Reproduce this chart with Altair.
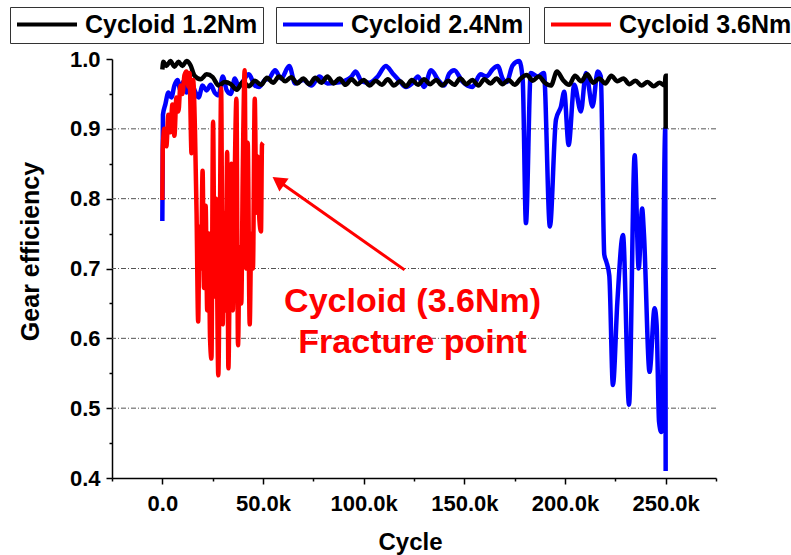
import altair as alt
import pandas as pd

# ---------------- data (cycles in thousands) ----------------
black_x = [0, 0.5, 2, 4, 6, 8, 10, 12, 14, 16, 19, 22, 25, 28, 31, 34, 37, 40, 43, 46, 49,
           52, 55, 58, 61, 64, 67, 70, 73, 76, 79, 82, 85, 88, 91, 94, 97, 100, 103, 106,
           109, 112, 115, 118, 121, 124, 127, 130, 133, 136, 139, 142, 145, 148, 151, 154,
           157, 160, 163, 166, 169, 172, 175, 178, 181, 184, 187, 190, 193, 196, 199, 202,
           205, 208, 211, 214, 217, 220, 223, 226, 229, 232, 235, 238, 241, 244, 247, 249.5,
           250, 250]
black_y = [0.985, 0.996, 0.990, 0.997, 0.989, 0.996, 0.990, 0.997, 0.991, 0.976, 0.971,
           0.978, 0.974, 0.962, 0.967, 0.964, 0.956, 0.967, 0.961, 0.969, 0.963,
           0.973, 0.966, 0.975, 0.968, 0.974, 0.965, 0.972, 0.964, 0.973, 0.966, 0.975,
           0.965, 0.972, 0.963, 0.971, 0.964, 0.970, 0.962, 0.969, 0.963, 0.971, 0.962,
           0.968, 0.961, 0.970, 0.963, 0.971, 0.964, 0.970, 0.962, 0.969, 0.963, 0.972,
           0.964, 0.970, 0.962, 0.971, 0.965, 0.972, 0.964, 0.970, 0.963, 0.972, 0.977,
           0.969, 0.975, 0.966, 0.962, 0.982, 0.970, 0.963, 0.976, 0.968, 0.978, 0.966,
           0.972, 0.965, 0.976, 0.968, 0.972, 0.964, 0.969, 0.962, 0.967, 0.961, 0.966,
           0.962, 0.976, 0.900]

blue_x = [0, 0.3, 1.5, 3, 4.5, 6, 7.5, 9, 10.5, 12, 13.5, 15, 16.5, 18, 20, 22, 24, 26, 28,
          30, 32, 34, 36, 38, 40, 43, 46, 48, 51, 53, 56, 59, 63, 66, 70, 74, 78, 82, 86,
          90, 94, 96, 99, 103, 107, 111, 114.5, 118, 121, 124, 127, 130, 133.5, 137, 140,
          142.5, 145, 149, 154, 158, 161, 164, 166.6, 169, 171, 174, 177.3, 179, 180.6,
          183, 186.5, 189.5, 192.5, 195.5, 198, 199.6, 201.8, 204.6, 207.9, 210.4, 213.7,
          216.2, 217.8, 219.5, 220.5, 222, 223.8, 226, 228.8, 231.8, 234.6, 236.6, 238.3,
          239.2, 242, 244.5, 245.5, 246.7, 247.8, 249.8, 250]
blue_y = [0.768, 0.920, 0.935, 0.952, 0.945, 0.962, 0.970, 0.955, 0.968, 0.952, 0.970,
          0.963, 0.952, 0.945, 0.962, 0.955, 0.963, 0.952, 0.948, 0.975, 0.955, 0.950,
          0.972, 0.960, 0.968, 0.978, 0.962, 0.960, 0.970, 0.972, 0.984, 0.972, 0.990,
          0.965, 0.970, 0.962, 0.975, 0.965, 0.966, 0.968, 0.975, 0.982, 0.968, 0.966,
          0.975, 0.990, 0.979, 0.968, 0.960, 0.965, 0.975, 0.960, 0.984, 0.970, 0.962,
          0.979, 0.984, 0.968, 0.960, 0.978, 0.975, 0.985, 0.990, 0.972, 0.967, 0.991,
          0.997, 0.970, 0.765, 0.980, 0.975, 0.980, 0.760, 0.913, 0.932, 0.953, 0.877,
          0.963, 0.925, 0.980, 0.932, 0.982, 0.975, 0.720, 0.710, 0.690, 0.533, 0.652,
          0.748, 0.505, 0.862, 0.700, 0.786, 0.750, 0.552, 0.643, 0.620, 0.481, 0.466,
          0.900, 0.410]

red_x = [0, 0.2, 1, 2, 3, 4, 5, 6, 7, 8, 9, 10, 11, 12, 13, 13.5, 14.5, 15.3, 16.2, 17,
         17.8, 18.5, 19.2, 20, 20.7, 21.5, 22.3, 23, 23.7, 24.4, 25.2, 26, 26.7, 27.8, 28.5,
         29.2, 30, 30.8, 31.5, 32.2, 32.8, 33.5, 34.3, 35, 35.8, 36.8, 37.6, 38.4, 39.2, 40,
         40.9, 41.6, 42.4, 43.4, 44.2, 45, 45.9, 46.7, 47.5, 48.2, 49, 49.5, 50]
red_y = [0.798, 0.870, 0.900, 0.875, 0.920, 0.895, 0.935, 0.890, 0.945, 0.925, 0.962,
         0.950, 0.977, 0.982, 0.960, 0.980, 0.865, 0.970, 0.900, 0.780, 0.624, 0.760,
         0.700, 0.840, 0.672, 0.790, 0.640, 0.750, 0.600, 0.571, 0.910, 0.660, 0.800,
         0.547, 0.720, 0.958, 0.620, 0.780, 0.640, 0.867, 0.557, 0.700, 0.850, 0.640,
         0.800, 0.943, 0.590, 0.730, 0.650, 0.850, 0.984, 0.700, 0.880, 0.620, 0.750,
         0.700, 0.943, 0.780, 0.860, 0.770, 0.753, 0.877, 0.880]

series_names = ["Cycloid 1.2Nm", "Cycloid 2.4Nm", "Cycloid 3.6Nm"]
series_colors = ["#000000", "#0000ff", "#ff0000"]

grid_values = [0.5, 0.6, 0.7, 0.8, 0.9]
x_tick_values = [-25000, 0, 25000, 50000, 75000, 100000, 125000, 150000, 175000, 200000,
                 225000, 250000, 275000]
y_tick_values = [0.4, 0.45, 0.5, 0.55, 0.6, 0.65, 0.7, 0.75, 0.8, 0.85, 0.9, 0.95, 1.0]

ann_text = ["Cycloid (3.6Nm)", "Fracture point"]
ann_x = [124300, 124300]
ann_y = [0.638, 0.579]

arrow_x = [120300, 57600]
arrow_y = [0.698, 0.8253]

FONT = "Liberation Sans, Arial, sans-serif"


def frame(xs, ys, name):
    return pd.DataFrame({"cycle": [v * 1000 for v in xs], "eff": ys,
                         "series": name, "i": list(range(len(xs)))})


x_scale = alt.Scale(domain=[-25000, 275000], nice=False, zero=False)
y_scale = alt.Scale(domain=[0.4, 1.0], nice=False, zero=False)

x_axis = alt.Axis(
    values=x_tick_values,
    labelExpr="(datum.value % 50000 == 0 && datum.value >= 0) ? (datum.value == 0 ? '0.0' : format(datum.value / 1000, '.1f') + 'k') : ''",
    tickSize={"condition": {"test": "datum.value % 50000 != 0", "value": 3}, "value": 6},
    grid=False, labelOverlap=False, labelFlush=False,
    domainColor="black", domainWidth=1.5, tickColor="black", tickWidth=1.5,
    labelFont=FONT, labelFontSize=22, labelFontWeight="bold", labelColor="black",
    labelPadding=9,
    title="Cycle", titleFont=FONT, titleFontSize=24, titleFontWeight="bold",
    titleColor="black", titleBaseline="alphabetic", titleY=71, titleX=298,
)
y_axis = alt.Axis(
    values=y_tick_values,
    labelExpr="round(datum.value * 100) % 10 == 0 ? format(datum.value, '.1f') : ''",
    tickSize={"condition": {"test": "round(datum.value * 100) % 10 != 0", "value": 3}, "value": 6},
    grid=False, labelOverlap=False, labelFlush=False,
    domainColor="black", domainWidth=1.5, tickColor="black", tickWidth=1.5,
    labelFont=FONT, labelFontSize=22, labelFontWeight="bold", labelColor="black",
    labelPadding=6,
    title="Gear efficiency", titleFont=FONT, titleFontSize=25, titleFontWeight="bold",
    titleColor="black", titleX=-69, titleY=192,
)


def X(field):
    return alt.X(field, scale=x_scale, axis=x_axis)


def Y(field):
    return alt.Y(field, scale=y_scale, axis=y_axis)


def series_layer(xs, ys, k, legend_x):
    df = frame(xs, ys, series_names[k])
    leg = alt.Legend(
        orient="none", legendX=legend_x, legendY=-52, title=None,
        symbolType="stroke", symbolSize=3600, symbolStrokeWidth=4,
        labelFont=FONT, labelFontSize=25, labelFontWeight="bold", labelColor="black",
        labelLimit=400, labelOffset=6, padding=5, clipHeight=25,
        strokeColor="#333333", fillColor="white",
    )
    return alt.Chart(df).mark_line(strokeWidth=4.5, interpolate="monotone").encode(
        x=X("cycle:Q"),
        y=Y("eff:Q"),
        order=alt.Order("i:Q"),
        color=alt.Color("series:N", scale=alt.Scale(domain=[series_names[k]],
                                                     range=[series_colors[k]]),
                        legend=leg),
    )


grid = alt.Chart(pd.DataFrame({"g": grid_values})).mark_rule(
    color="#555555", strokeWidth=1, strokeDash=[5, 2, 1, 2]
).encode(y=Y("g:Q"))

blue = series_layer(blue_x, blue_y, 1, 164)
black = series_layer(black_x, black_y, 0, -102)
red = series_layer(red_x, red_y, 2, 432)

arrow_df = pd.DataFrame({"ax": arrow_x, "ay": arrow_y, "i": [0, 1]})
arrow_line = alt.Chart(arrow_df).mark_line(color="#ff0000", strokeWidth=3).encode(
    x=X("ax:Q"), y=Y("ay:Q"), order=alt.Order("i:Q"),
)
arrow_head = alt.Chart(arrow_df.iloc[[1]]).mark_point(
    shape="triangle-up", size=260, filled=True, color="#ff0000", opacity=1, angle=305
).encode(x=X("ax:Q"), y=Y("ay:Q"))

ann = alt.Chart(pd.DataFrame({"t": ann_text, "tx": ann_x, "ty": ann_y})).mark_text(
    font=FONT, fontSize=34, fontWeight="bold", color="#ff0000",
    align="center", baseline="alphabetic"
).encode(x=X("tx:Q"), y=Y("ty:Q"), text="t:N")

chart = alt.layer(grid, blue, black, red, arrow_line, arrow_head, ann).resolve_scale(
    color="independent"
).resolve_legend(color="independent").properties(
    width=604, height=419,
    autosize=alt.AutoSizeParams(type="none"),
    padding={"left": 112, "top": 59, "right": 75, "bottom": 77},
    background="white",
).configure_view(stroke=None)

chart.save("out.html", embed_options={"renderer": "svg", "actions": False})
